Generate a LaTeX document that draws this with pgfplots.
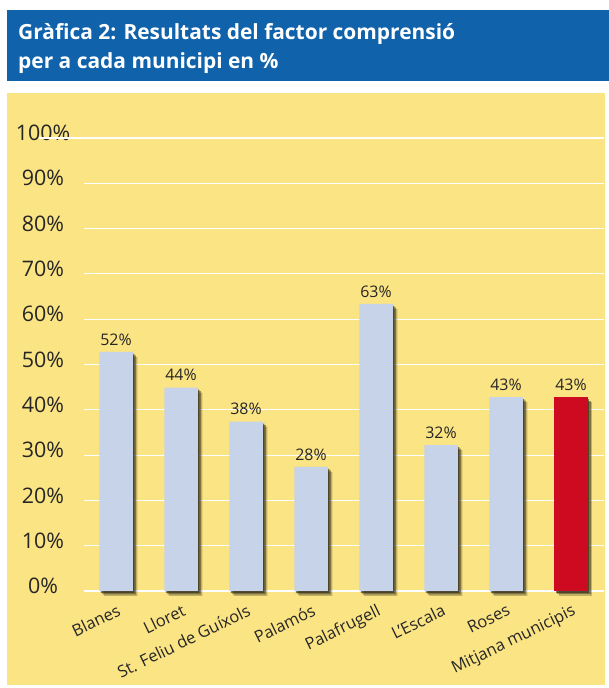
\documentclass[border=0pt]{standalone}
\usepackage{pgfplots}
\pgfplotsset{compat=1.18}
\usepackage{fontspec}
\setmainfont{Open Sans}
\usetikzlibrary{shadows}
\definecolor{titleblue}{RGB}{16,99,171}
\definecolor{panel}{RGB}{251,228,131}
\definecolor{barblue}{RGB}{198,211,232}
\definecolor{barred}{RGB}{205,10,32}
\definecolor{shadowc}{RGB}{45,40,20}
\pgfplotsset{
  barshadow/.style={
    drop shadow={shadow xshift=1.5bp, shadow yshift=-2bp, fill=shadowc, opacity=0.6},
    drop shadow={shadow xshift=3bp, shadow yshift=-3.5bp, fill=shadowc, opacity=0.45},
    drop shadow={shadow xshift=4.5bp, shadow yshift=-5bp, fill=shadowc, opacity=0.28},
  }
}
\begin{document}
\begin{tikzpicture}
\begin{scope}[x=1bp,y=1bp,shift={(-83.5bp,-97bp)}]
\path (0,0) rectangle (609,688);
\fill[titleblue] (7,607) rectangle (609,678);
\fill[panel] (7,3) rectangle (605,595);
\node[anchor=base west, text=white, inner sep=0pt,
  font=\fontsize{21}{29}\selectfont\bfseries] at (18,648.5)
  {Gràfica 2: Resultats del factor comprensió};
\node[anchor=base west, text=white, inner sep=0pt,
  font=\fontsize{21}{29}\selectfont\bfseries] at (18,619.5)
  {per a cada municipi en \%};
\end{scope}
\begin{axis}[
  scale only axis, width=520bp, height=453bp,
  xmin=-0.5, xmax=7.5, ymin=0, ymax=100,
  axis line style={draw=none}, tick style={draw=none},
  ymajorgrids, grid style={white, line width=1.1bp},
  ytick={0,10,...,100},
  yticklabel={\pgfmathprintnumber{\tick}\%},
  /pgf/number format/assume math mode=true,
  yticklabel style={anchor=center, xshift=-40.5bp, yshift=5bp, font=\fontsize{21.5}{21.5}\selectfont, text=black!85},
  xtick={0,...,7},
  xticklabels={Blanes, Lloret, St. Feliu de Guíxols, Palamós, Palafrugell, L’Escala, Roses, Mitjana municipis},
  xticklabel style={rotate=26, anchor=north east, xshift=0bp, yshift=-4bp, font=\fontsize{16.5}{16.5}\selectfont, text=black!85},
  ybar, bar width=33.5bp, bar shift=0pt,
  point meta=explicit,
  nodes near coords={\pgfmathprintnumber{\pgfplotspointmeta}\%},
  every node near coord/.append style={font=\fontsize{16}{16}\selectfont, text=black!85, yshift=3bp},
  clip=false,
]
\addplot[fill=barblue, draw=none, barshadow]
  coordinates {(0,52.8)[52] (1,44.9)[44] (2,37.4)[38] (3,27.4)[28] (4,63.4)[63] (5,32.2)[32] (6,42.8)[43]};
\addplot[fill=barred, draw=none, barshadow]
  coordinates {(7,42.8)[43]};
\draw[white, line width=1.1bp] (axis cs:-0.5,100) -- ++(-76.5bp,0);
\end{axis}
\end{tikzpicture}
\end{document}
